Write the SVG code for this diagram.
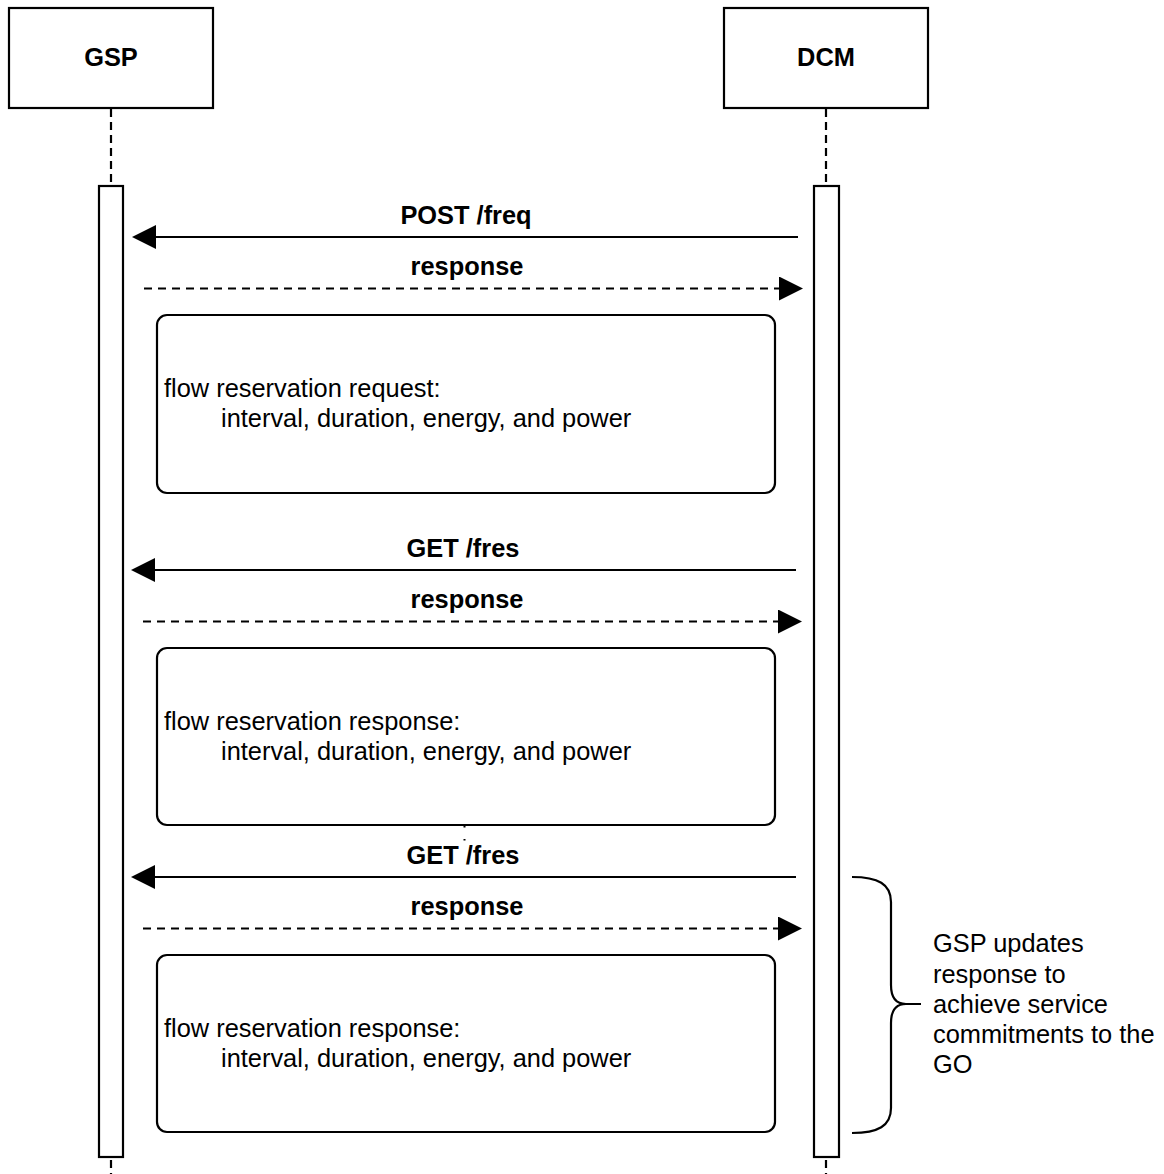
<svg xmlns="http://www.w3.org/2000/svg" width="1164" height="1174" viewBox="0 0 1164 1174">
  <style>
    text { font-family: "Liberation Sans", Arial, Helvetica, sans-serif; font-size: 25.4px; fill: #000; }
    .bold { font-weight: bold; }
    .mid { text-anchor: middle; }
    .box { fill: #fff; stroke: #000; stroke-width: 2.2; }
    .life { stroke: #000; stroke-width: 2.2; stroke-dasharray: 8 5; fill: none; }
    .call { stroke: #000; stroke-width: 2.2; fill: none; }
    .reply { stroke: #000; stroke-width: 2.2; stroke-dasharray: 8 6; fill: none; }
    .head { fill: #000; stroke: none; }
  </style>
  <defs>
    <marker id="arrow" markerUnits="userSpaceOnUse" markerWidth="24" markerHeight="24" viewBox="0 0 22 22" refX="0" refY="11" orient="auto">
      <path class="head" d="M0,0 L22,11 L0,22 Z"/>
    </marker>
  </defs>

  <!-- lifelines -->
  <g id="lifelines">
    <line class="life" x1="111" y1="109" x2="111" y2="186"/>
    <line class="life" x1="111" y1="1160" x2="111" y2="1174"/>
    <line class="life" x1="826" y1="109" x2="826" y2="186"/>
    <line class="life" x1="826" y1="1160" x2="826" y2="1174"/>
  </g>

  <!-- participants -->
  <g id="gsp">
    <rect class="box" x="9" y="8" width="204" height="100"/>
    <text class="bold mid" x="111" y="66">GSP</text>
  </g>
  <g id="dcm">
    <rect class="box" x="724" y="8" width="204" height="100"/>
    <text class="bold mid" x="826" y="66">DCM</text>
  </g>

  <!-- activation bars -->
  <g id="gsp-activation">
    <rect class="box" x="99" y="186" width="24" height="971"/>
  </g>
  <g id="dcm-activation">
    <rect class="box" x="814" y="186" width="25" height="971"/>
  </g>

  <!-- messages -->
  <g id="connectors">
    <line class="call" x1="798" y1="237" x2="156" y2="237" marker-end="url(#arrow)"/>
    <line class="reply" x1="144" y1="288.5" x2="779" y2="288.5" marker-end="url(#arrow)"/>
    <line class="call" x1="796" y1="570" x2="155" y2="570" marker-end="url(#arrow)"/>
    <line class="reply" x1="143" y1="621.5" x2="778" y2="621.5" marker-end="url(#arrow)"/>
    <line class="call" x1="796" y1="877" x2="155" y2="877" marker-end="url(#arrow)"/>
    <line class="reply" x1="143" y1="928.5" x2="778" y2="928.5" marker-end="url(#arrow)"/>
    <line x1="464.5" y1="826" x2="464.5" y2="841" stroke="#000" stroke-width="2" stroke-dasharray="1.5 11.5"/>
    <!-- brace grouping the last exchange -->
    <path class="call" d="M852,877 C878,877 891,884 891,902 L891,985 C891,997 896,1004 906,1004 L921,1004 M906,1004 C896,1004 891,1011 891,1023 L891,1108 C891,1126 878,1133 852,1133"/>
  </g>

  <g id="labels">
    <text class="bold mid" x="466" y="224">POST /freq</text>
    <text class="bold mid" x="467" y="275">response</text>
    <text class="bold mid" x="463" y="557">GET /fres</text>
    <text class="bold mid" x="467" y="608">response</text>
    <text class="bold mid" x="463" y="864">GET /fres</text>
    <text class="bold mid" x="467" y="915">response</text>
  </g>

  <!-- payload notes -->
  <g id="note-request">
    <rect class="box" x="157" y="315" width="618" height="178" rx="10"/>
    <text x="164" y="397">flow reservation request:</text>
    <text x="221" y="427">interval, duration, energy, and power</text>
  </g>
  <g id="note-response-1">
    <rect class="box" x="157" y="648" width="618" height="177" rx="10"/>
    <text x="164" y="730">flow reservation response:</text>
    <text x="221" y="760">interval, duration, energy, and power</text>
  </g>
  <g id="note-response-2">
    <rect class="box" x="157" y="955" width="618" height="177" rx="10"/>
    <text x="164" y="1037">flow reservation response:</text>
    <text x="221" y="1067">interval, duration, energy, and power</text>
  </g>

  <g id="brace-note">
    <text x="933" y="952">GSP updates</text>
    <text x="933" y="983">response to</text>
    <text x="933" y="1013">achieve service</text>
    <text x="933" y="1043">commitments to the</text>
    <text x="933" y="1073">GO</text>
  </g>
</svg>
